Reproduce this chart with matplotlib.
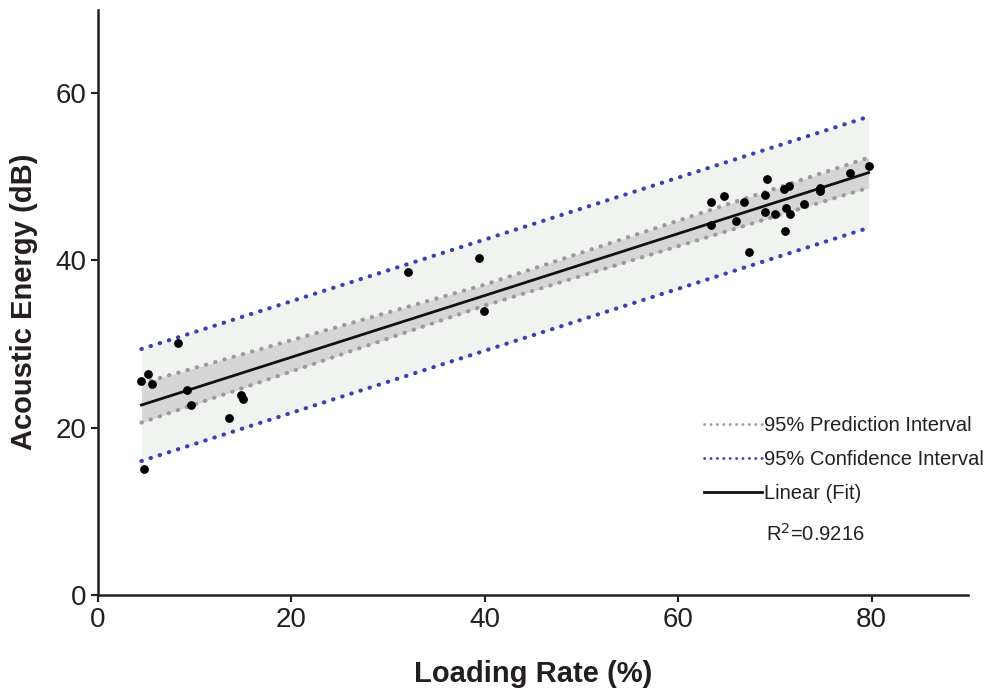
import numpy as np
import matplotlib.pyplot as plt

plt.rcParams['font.family'] = ['Liberation Sans', 'DejaVu Sans']

# measured points (loading rate %, acoustic energy dB)
rate = [4.5, 5.2, 5.6, 4.8, 8.25, 9.2, 9.6, 13.6, 14.8, 15.0,
        32.1, 39.4, 39.9,
        63.4, 63.4, 64.7, 66.0, 66.8, 67.3, 69.0, 69.2, 69.0, 70.0,
        70.9, 71.5, 71.2, 71.6, 71.1, 73.0, 74.7, 74.7, 77.8, 79.7]
energy = [25.6, 26.4, 25.2, 15.1, 30.1, 24.5, 22.7, 21.1, 23.9, 23.4,
          38.6, 40.3, 33.9,
          44.2, 47.0, 47.7, 44.7, 47.0, 41.0, 47.8, 49.8, 45.8, 45.6,
          48.6, 48.9, 46.3, 45.6, 43.5, 46.8, 48.7, 48.3, 50.4, 51.3]

# fit and interval bands
band_x = [4.5, 40.0, 79.7]
fit_y = [22.7, 35.8, 50.5]
pred_lo = [20.6, 34.6, 48.7]
pred_hi = [25.3, 37.1, 52.3]
conf_lo = [16.0, 29.2, 43.9]
conf_hi = [29.4, 42.5, 57.2]

fig = plt.figure(figsize=(9.89, 6.9), dpi=100)
ax = fig.add_axes([0.099, 0.138, 0.88, 0.848])

ax.fill_between(band_x, conf_lo, conf_hi, color='#f1f3f1', lw=0)
ax.fill_between(band_x, pred_lo, pred_hi, color='#d6d6d6', lw=0)

dot = (0, (0.1, 2.2))
ax.plot(band_x, pred_lo, color='#9b9b9b', lw=3, ls=dot, dash_capstyle='round',
        label='95% Prediction Interval')
ax.plot(band_x, pred_hi, color='#9b9b9b', lw=3, ls=dot, dash_capstyle='round')
ax.plot(band_x, conf_lo, color='#3b40b0', lw=3, ls=dot, dash_capstyle='round',
        label='95% Confidence Interval')
ax.plot(band_x, conf_hi, color='#3b40b0', lw=3, ls=dot, dash_capstyle='round')
ax.plot(band_x, fit_y, color='#111111', lw=2, label='Linear (Fit)')

ax.scatter(rate, energy, s=28, color='black', zorder=5)

ax.set_xlim(0, 90)
ax.set_ylim(0, 70)
ax.set_xticks([0, 20, 40, 60, 80])
ax.set_yticks([0, 20, 40, 60])
ax.tick_params(labelsize=20, width=1.5, length=5, color='#231f20', labelcolor='#231f20')
for s in ['top', 'right']:
    ax.spines[s].set_visible(False)
for s in ['left', 'bottom']:
    ax.spines[s].set_linewidth(1.8)
    ax.spines[s].set_color('#231f20')

ax.set_xlabel('Loading Rate (%)', fontsize=21, fontweight='bold', labelpad=20, color='#231f20')
ax.set_ylabel('Acoustic Energy (dB)', fontsize=21, fontweight='bold', labelpad=12, color='#231f20')

leg = ax.legend(loc='upper left', bbox_to_anchor=(0.675, 0.337), frameon=False,
                fontsize=14.5, handlelength=2.9, handletextpad=0.1, labelspacing=0.75,
                labelcolor='#231f20')
for h in leg.get_lines()[:2]:
    h.set_linewidth(2)
fig.text(0.775, 0.216, 'R$^2$=0.9216', fontsize=14.5, color='#231f20')

plt.savefig('out.png')
